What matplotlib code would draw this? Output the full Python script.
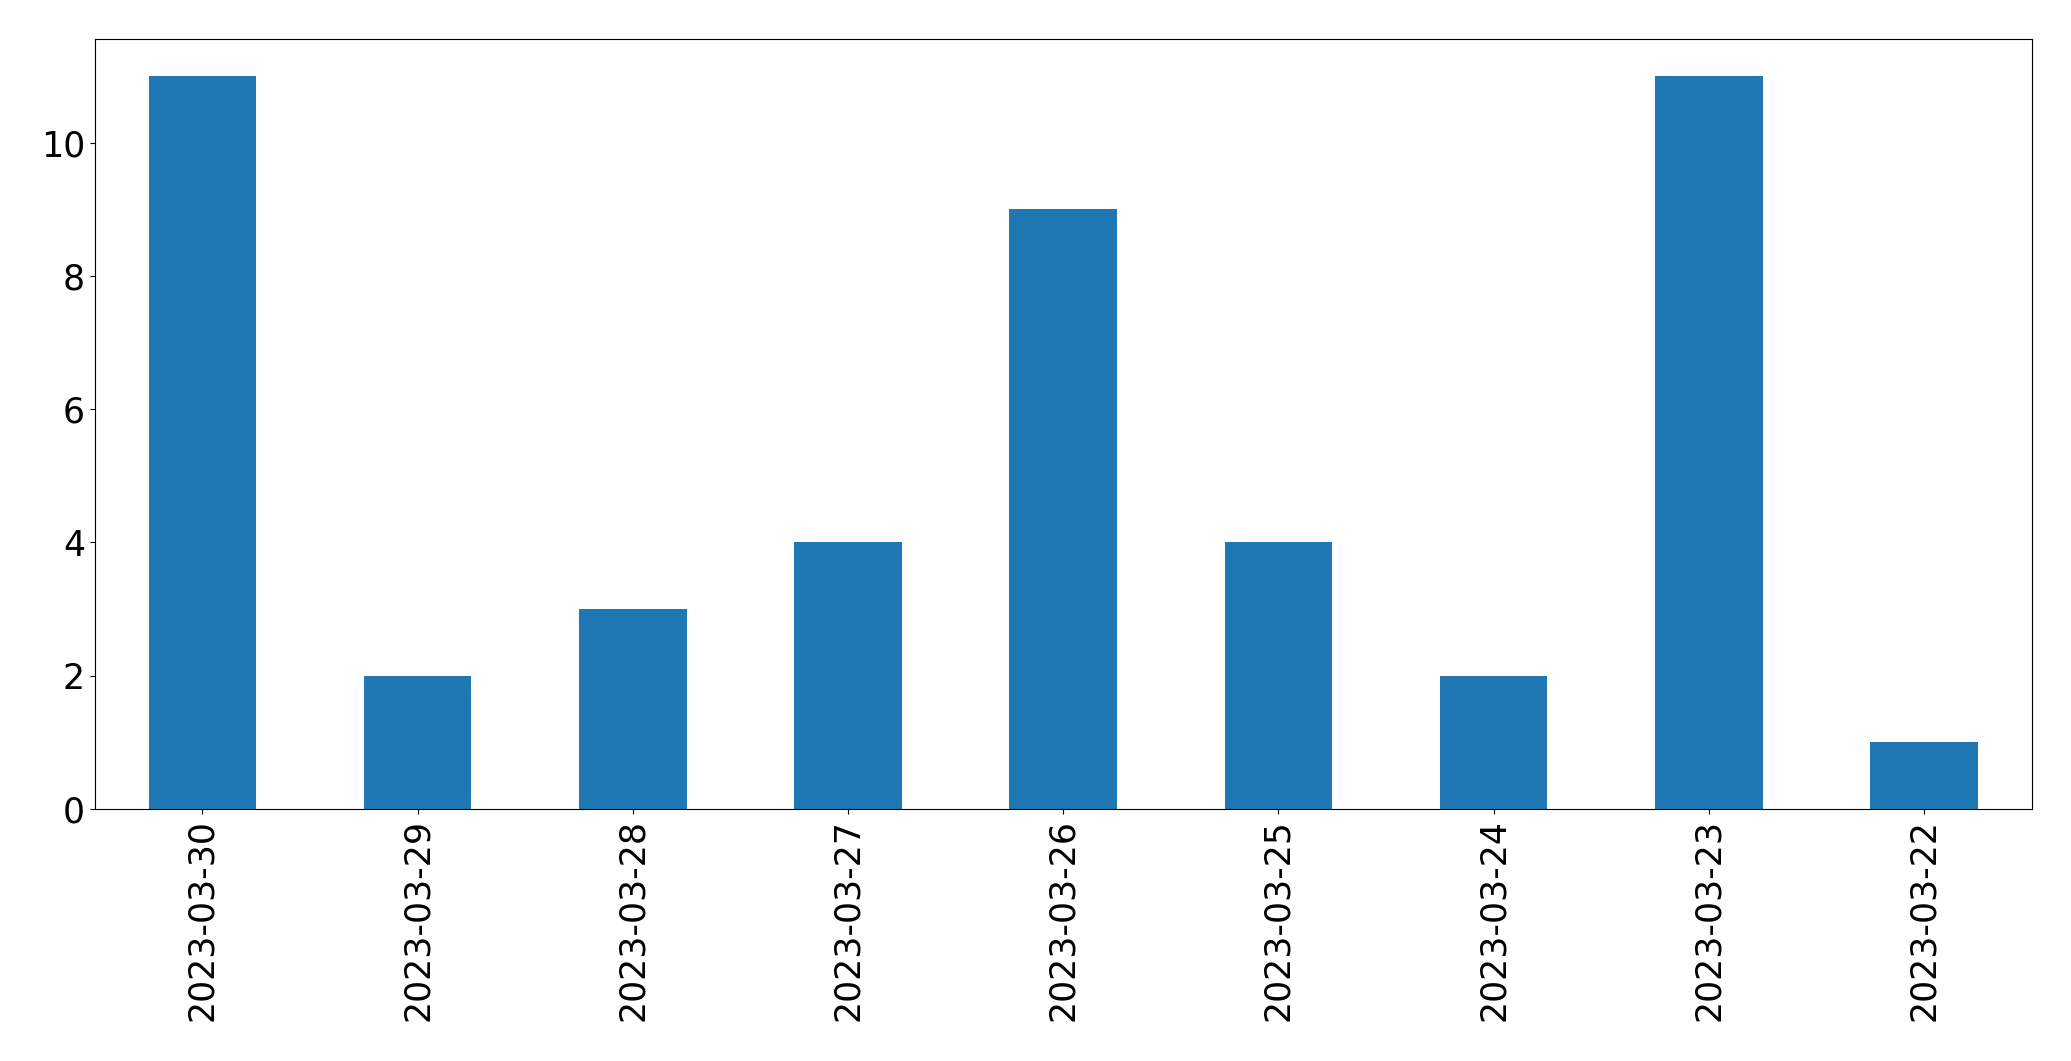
import matplotlib
matplotlib.use("Agg")
import matplotlib.pyplot as plt

dates = ["2023-03-30", "2023-03-29", "2023-03-28", "2023-03-27", "2023-03-26",
         "2023-03-25", "2023-03-24", "2023-03-23", "2023-03-22"]
counts = [11, 2, 3, 4, 9, 4, 2, 11, 1]

fig = plt.figure(figsize=(20.71, 10.61), dpi=100)
ax = fig.add_axes([94.7 / 2071, 1 - 809 / 1061, (2031.7 - 94.7) / 2071, (809 - 39.3) / 1061])
x = list(range(len(dates)))
ax.bar(x, counts, width=0.5, color="#1f77b4")
ax.set_xlim(-0.5, len(dates) - 0.5)
ax.set_xticks(x)
ax.set_xticklabels(dates, rotation=90)
ax.tick_params(axis="both", labelsize=25)
fig.savefig("out.png", dpi=100)
